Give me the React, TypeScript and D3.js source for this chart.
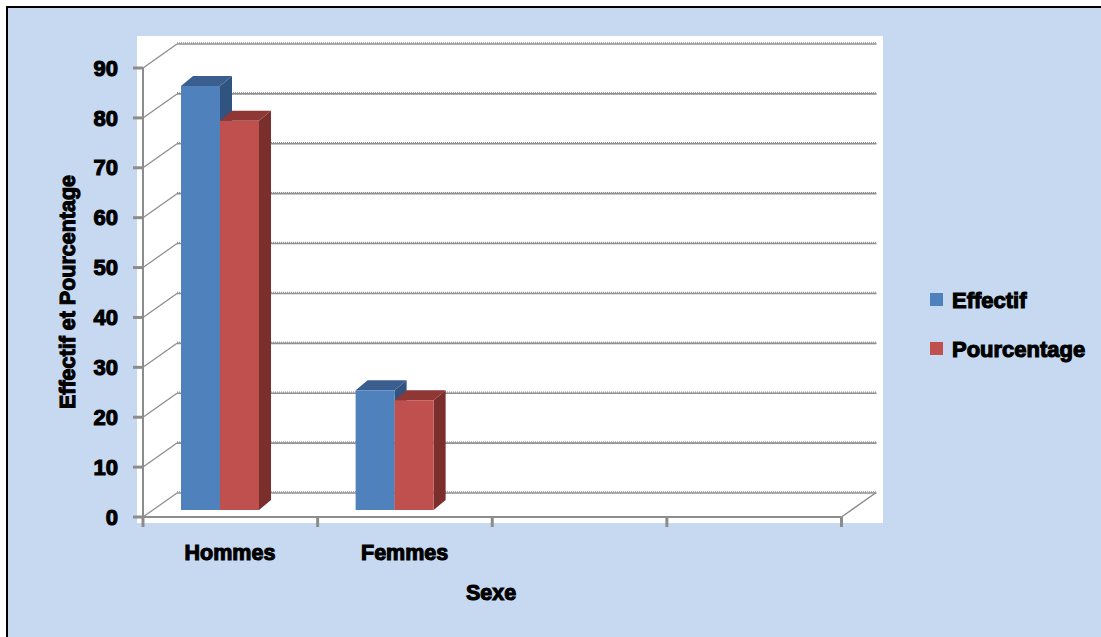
import * as d3 from 'd3';

const categories = ['Hommes', 'Femmes', 'c3', 'c4'];
const seriesNames = ['Effectif', 'Pourcentage'];
const effectif = [85, 24];
const pourcentage = [78, 22];
const yTicks = [0, 10, 20, 30, 40, 50, 60, 70, 80, 90];

const W = 1101;
const H = 637;
const FONT = '"Liberation Sans", Arial, sans-serif';

const frontColors = ['#4f81bd', '#c0504d'];
const topColors = ['#3a5f8f', '#8e3735'];
const sideColors = ['#30537f', '#7a2f2d'];

// depth offsets (oblique projection)
const wallDx = 34;
const wallDy = -24;
const barDx = 0;
const barDy = -7;
const barDepthX = 12;
const barDepthY = -10;

function Grid({ x1, x2, y }: { x1: number; x2: number; y: number }) {
  return (
    <g>
      <line x1={x1} x2={x2} y1={y} y2={y} stroke="#909090" strokeWidth={1.6} />
      <line x1={x1} x2={x2} y1={y - 1.2} y2={y - 1.2} stroke="#888" strokeWidth={1} strokeDasharray="1 1" />
    </g>
  );
}

function Label(props: any) {
  return (
    <text
      fontFamily={FONT}
      fontWeight="bold"
      fill="#000"
      stroke="#000"
      strokeWidth={1.1}
      dy="0.35em"
      {...props}
    />
  );
}

export default function App() {
  const x = d3.scaleBand<string>().domain(categories).range([143, 841.5]).padding(0);
  const inner = d3.scaleBand<string>().domain(seriesNames).range([38, 116]).padding(0);
  const y = d3.scaleLinear().domain([0, 90]).range([517, 68]);

  const values = [effectif, pourcentage];
  const bars: { cat: string; s: number; v: number }[] = [];
  categories.forEach((cat, i) => {
    seriesNames.forEach((_, s) => {
      const v = values[s][i];
      if (v !== undefined) bars.push({ cat, s, v });
    });
  });

  const xL = 143;
  const xR = 841.5;

  return (
    <div style={{ position: 'fixed', left: 0, top: 0 }}>
      <svg width={W} height={H} style={{ display: 'block' }}>
        <rect x={0} y={0} width={W} height={H} fill="#ffffff" />
        <rect x={7} y={7} width={W + 10} height={H + 10} fill="#c6d9f1" stroke="#000" strokeWidth={2} />
        <rect x={137} y={36} width={746} height={487} fill="#ffffff" />

        {/* back wall gridlines */}
        {yTicks.map((t) => (
          <Grid key={'g' + t} x1={xL + wallDx} x2={xR + wallDx + 1} y={y(t) + wallDy} />
        ))}
        {/* left wall diagonals */}
        {yTicks.map((t) => (
          <line
            key={'d' + t}
            x1={xL}
            y1={y(t)}
            x2={xL + wallDx}
            y2={y(t) + wallDy}
            stroke="#8c8c8c"
            strokeWidth={1.2}
          />
        ))}
        {/* right floor diagonal */}
        <line x1={xR} y1={y(0)} x2={xR + wallDx} y2={y(0) + wallDy} stroke="#8c8c8c" strokeWidth={1.5} />

        {/* bars */}
        {bars.map((b, i) => {
          const x0 = (x(b.cat) ?? 0) + inner(seriesNames[b.s])! + barDx;
          const w = inner.bandwidth();
          const yb = y(0) + barDy;
          const yt = y(b.v) + barDy;
          const top = `${x0},${yt} ${x0 + barDepthX},${yt + barDepthY} ${x0 + w + barDepthX},${yt + barDepthY} ${x0 + w},${yt}`;
          const side = `${x0 + w},${yt} ${x0 + w + barDepthX},${yt + barDepthY} ${x0 + w + barDepthX},${yb + barDepthY} ${x0 + w},${yb}`;
          return (
            <g key={'b' + i}>
              <polygon points={side} fill={sideColors[b.s]} />
              <polygon points={top} fill={topColors[b.s]} />
              <rect x={x0} y={yt} width={w} height={yb - yt} fill={frontColors[b.s]} />
            </g>
          );
        })}

        {/* front axes */}
        <line x1={xL} x2={xL} y1={y(90)} y2={y(0) + 1} stroke="#8c8c8c" strokeWidth={2} />
        <line x1={xL} x2={xR} y1={y(0)} y2={y(0)} stroke="#8c8c8c" strokeWidth={2} />
        {yTicks.map((t) => (
          <line key={'t' + t} x1={133} x2={xL} y1={y(t)} y2={y(t)} stroke="#8c8c8c" strokeWidth={3} />
        ))}
        {[...categories.map((c) => x(c)!), xR].map((p, i) => (
          <line key={'xt' + i} x1={p} x2={p} y1={y(0)} y2={y(0) + 10} stroke="#8c8c8c" strokeWidth={3} />
        ))}

        {/* y tick labels */}
        {yTicks.map((t) => (
          <Label key={'l' + t} x={118} y={y(t)} textAnchor="end" fontSize={22}>
            {t}
          </Label>
        ))}

        {/* category labels */}
        {categories.slice(0, 2).map((c) => (
          <Label key={'c' + c} x={x(c)! + 87} y={552} textAnchor="middle" fontSize={21.5}>
            {c}
          </Label>
        ))}

        <Label x={491} y={592} textAnchor="middle" fontSize={21.5}>
          Sexe
        </Label>

        <Label transform="translate(67,292) rotate(-90)" textAnchor="middle" fontSize={21.5}>
          Effectif et Pourcentage
        </Label>

        {/* legend */}
        {seriesNames.map((s, i) => (
          <g key={'lg' + s} transform={`translate(930,${293 + i * 49})`}>
            <rect x={0} y={0} width={13} height={13} fill={frontColors[i]} />
            <Label x={22} y={7} fontSize={22}>
              {s}
            </Label>
          </g>
        ))}
      </svg>
    </div>
  );
}
